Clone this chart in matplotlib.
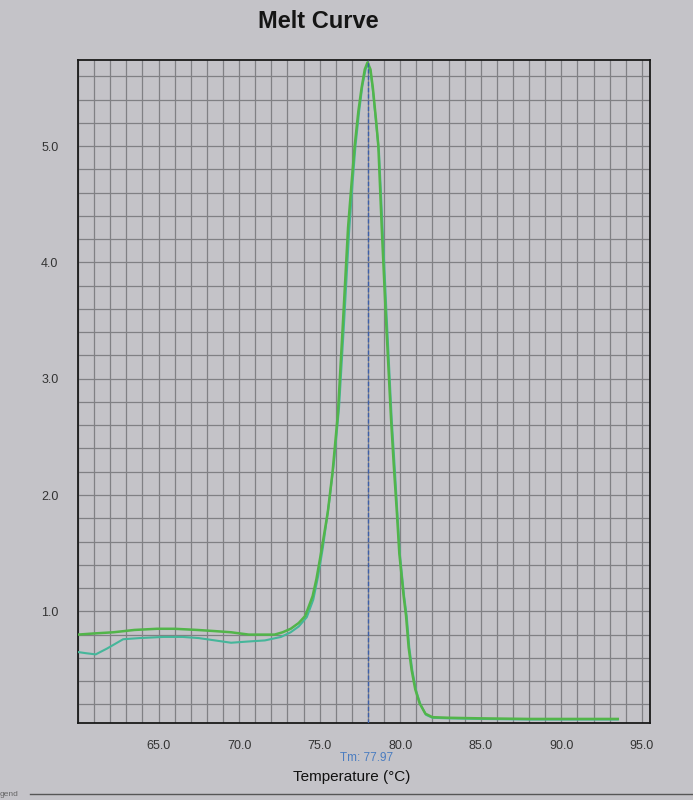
import matplotlib
matplotlib.use("Agg")
import matplotlib.pyplot as plt
from matplotlib.ticker import MultipleLocator, FixedLocator
from matplotlib.lines import Line2D

# ---- data ----
temp_green = [60.0, 61.0, 62.2, 63.5, 64.9, 66.0, 67.4, 68.5, 69.5, 70.6, 71.5, 72.2,
              72.7, 73.2, 73.7, 74.1, 74.56, 74.8, 75.08, 75.5, 75.8, 76.13, 76.45,
              76.76, 77.0, 77.17, 77.4, 77.6, 77.8, 77.97, 78.15, 78.3, 78.5, 78.64,
              78.85, 79.1, 79.43, 79.6, 79.79, 79.94, 80.21, 80.36, 80.52, 80.7,
              80.93, 81.2, 81.56, 82.0, 83.0, 85.0, 88.0, 91.0, 93.5]
val_green = [0.80, 0.81, 0.82, 0.84, 0.85, 0.85, 0.84, 0.83, 0.82, 0.80, 0.80, 0.80,
             0.82, 0.85, 0.90, 0.96, 1.13, 1.28, 1.50, 1.85, 2.20, 2.70, 3.50,
             4.30, 4.72, 5.00, 5.30, 5.50, 5.66, 5.72, 5.66, 5.50, 5.22, 5.00,
             4.30, 3.55, 2.65, 2.25, 1.85, 1.50, 1.13, 0.96, 0.69, 0.50,
             0.33, 0.21, 0.12, 0.09, 0.085, 0.08, 0.075, 0.075, 0.075]

temp_teal = [60.0, 60.5, 61.1, 61.8, 62.8, 63.8, 65.3, 66.5, 67.5, 68.5, 69.5, 70.5,
             71.6, 72.6, 73.2, 73.7, 74.2, 74.6, 74.9, 75.2, 75.6, 75.9, 76.2, 76.5,
             76.82, 77.05, 77.22, 77.45, 77.65, 77.85, 77.97, 78.15, 78.3, 78.5,
             78.68, 78.9, 79.15, 79.47, 79.65, 79.82, 79.97, 80.24, 80.4, 80.56,
             80.75, 80.98, 81.25, 81.6, 82.0, 83.0, 85.0, 88.0, 91.0, 93.5]
val_teal = [0.65, 0.64, 0.63, 0.68, 0.76, 0.77, 0.78, 0.78, 0.77, 0.75, 0.73, 0.74,
            0.75, 0.78, 0.82, 0.87, 0.95, 1.10, 1.30, 1.55, 1.95, 2.30, 2.75, 3.45,
            4.25, 4.70, 5.00, 5.30, 5.52, 5.66, 5.70, 5.65, 5.48, 5.20, 4.95,
            4.30, 3.55, 2.65, 2.25, 1.85, 1.50, 1.13, 0.96, 0.69, 0.49,
            0.32, 0.20, 0.11, 0.085, 0.08, 0.075, 0.07, 0.07, 0.07]

tm_value = 77.97
x_ticks = [65.0, 70.0, 75.0, 80.0, 85.0, 90.0, 95.0]
y_ticks = [1.0, 2.0, 3.0, 4.0, 5.0]

# ---- styling ----
bg = "#c4c3c8"
grid_c = "#808084"
green = "#52b54a"
teal = "#45b69a"
blue = "#3d5fa8"

plt.rcParams["font.family"] = ["Liberation Sans", "DejaVu Sans"]

fig = plt.figure(figsize=(6.93, 8.0), dpi=100, facecolor=bg)
ax = fig.add_axes([78 / 693, 1 - 723 / 800, (650 - 78) / 693, (723 - 60) / 800])
ax.set_facecolor(bg)

ax.set_xlim(60.0, 95.5)
ax.set_ylim(0.04, 5.74)

ax.xaxis.set_major_locator(FixedLocator(x_ticks))
ax.xaxis.set_minor_locator(MultipleLocator(1.0))
ax.yaxis.set_major_locator(FixedLocator(y_ticks))
ax.yaxis.set_minor_locator(MultipleLocator(0.2))
ax.set_xticklabels([f"{t:.1f}" for t in x_ticks])
ax.set_yticklabels([f"{t:.1f}" for t in y_ticks])

ax.grid(which="both", color=grid_c, linewidth=0.9)
ax.set_axisbelow(True)
ax.tick_params(which="both", length=0)
ax.tick_params(axis="x", pad=12, labelsize=9, labelcolor="#333333")
ax.tick_params(axis="y", pad=14, labelsize=9, labelcolor="#333333")
for s in ax.spines.values():
    s.set_color("#1a1a1a")
    s.set_linewidth(1.3)

ax.plot(temp_teal, val_teal, color=teal, linewidth=1.5, zorder=3)
ax.plot(temp_green, val_green, color=green, linewidth=1.8, zorder=4)
ax.axvline(tm_value, color=blue, linestyle=(0, (3, 1.5)), linewidth=1.0, zorder=5)

fig.text(367 / 693, 1 - 758 / 800, f"Tm: {tm_value:.2f}", ha="center", va="center",
         fontsize=8.5, color="#4a7cc0")

fig.text(318 / 693, 1 - 21 / 800, "Melt Curve", ha="center", va="center",
         fontsize=17, fontweight="bold", color="#151515")
fig.text(352 / 693, 1 - 777 / 800, "Temperature (°C)", ha="center", va="center",
         fontsize=11, color="#111111")

fig.add_artist(Line2D([30 / 693, 1.0], [1 - 794 / 800, 1 - 794 / 800],
                      transform=fig.transFigure, color="#555555", linewidth=1.0))
fig.text(0.0, 1 - 794 / 800, "gend", ha="left", va="center", fontsize=6, color="#666666")

fig.savefig("out.png", dpi=100, facecolor=bg)
